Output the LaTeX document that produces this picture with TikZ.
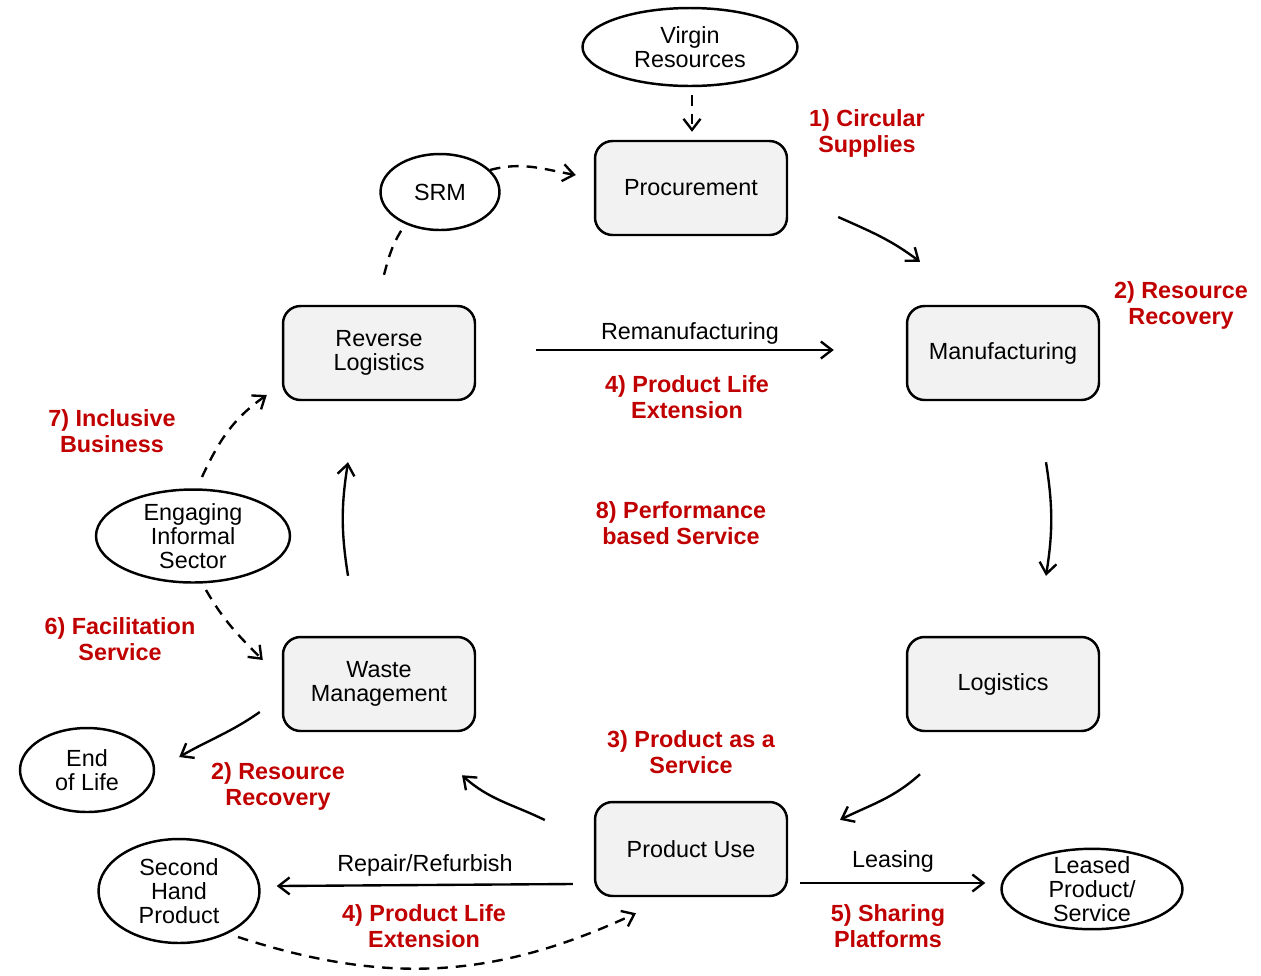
\documentclass[tikz,border=0pt]{standalone}
\usepackage{fontspec}
\setmainfont{Liberation Sans}
\usepackage{tikz}
\usetikzlibrary{shapes.geometric, arrows.meta}

\definecolor{cered}{RGB}{192,0,0}
\definecolor{boxgray}{RGB}{242,242,242}

\begin{document}
\begin{tikzpicture}[x=0.02cm, y=0.02cm,
	stage/.style={draw, line width=1.4pt, rounded corners=0.35cm, fill=boxgray, minimum width=3.84cm, minimum height=1.88cm, align=center, font=\fontsize{13.3}{13.5}\selectfont},
	pool/.style={draw, ellipse, line width=1.4pt, inner sep=0pt, align=center, font=\fontsize{13.3}{13.5}\selectfont},
	model/.style={text=cered, align=center, font=\fontsize{13.3}{14.8}\selectfont\bfseries},
	tag/.style={align=center, font=\fontsize{13.3}{13.5}\selectfont},
	flow/.style={line width=1.35pt, -{Straight Barb[length=2.2mm, width=3.4mm]}},
	dflow/.style={flow, dash pattern=on 6pt off 4.5pt}]
	
	%\draw[help lines, step=50] (0,0) grid (1261,-975);
	\useasboundingbox (0,0) rectangle (1261,-975);
	
	% stages of the cycle
	\node[stage] (proc) at (691,-188) {Procurement};
	\node[stage] (manu) at (1003,-353) {Manufacturing};
	\node[stage] (logi) at (1003,-684) {Logistics};
	\node[stage] (use) at (691,-849) {Product Use};
	\node[stage] (waste) at (379,-684) {Waste\\Management};
	\node[stage] (rlog) at (379,-353) {Reverse\\Logistics};
	
	% outside pools
	\node[pool, minimum width=4.3cm, minimum height=1.56cm] (virgin) at (690,-47) {Virgin\\Resources};
	\node[pool, minimum width=2.38cm, minimum height=1.52cm] (srm) at (440,-192) {SRM};
	\node[pool, minimum width=3.88cm, minimum height=1.86cm] (informal) at (193,-536) {Engaging\\Informal\\Sector};
	\node[pool, minimum width=2.68cm, minimum height=1.68cm] (eol) at (87,-770) {End\\of Life};
	\node[pool, minimum width=3.22cm, minimum height=2.08cm] (second) at (179,-891) {Second\\Hand\\Product};
	\node[pool, minimum width=3.62cm, inner ysep=-2.2pt] (leased) at (1092,-889) {Leased\\Product/\\Service};
	
	% main loop
	\draw[flow] ([shift={(50,-29)}]proc.east) to[out=-24, in=143] ([shift={(-83,43)}]manu.north); % 1
	\draw[flow] ([shift={(43,-61)}]manu.south) to[out=-81, in=81] ([shift={(43,60)}]logi.north); % 2
	\draw[flow] ([shift={(-83,-42)}]logi.south) to[out=-138, in=26] ([shift={(149,-19)}]use.north); % 3
	\draw[flow] ([shift={(-49,29)}]use.west) to[out=154, in=-42] ([shift={(83,-43)}]waste.south); % 4
	\draw[flow] ([shift={(-31,60)}]waste.north) to[out=99, in=-99] ([shift={(-31,-61)}]rlog.south); % 5
	
	% side flows
	\draw[dflow] ([shift={(2,-8)}]virgin.south) -- ([shift={(1,8)}]proc.north);
	\draw[dflow] ([shift={(50,22)}]srm.center) to[out=15, in=170] ([shift={(-18,13)}]proc.west);
	\draw[line width=1.35pt, dash pattern=on 6pt off 4.5pt] ([shift={(5,30)}]rlog.north) to[out=75, in=235] ([shift={(-35,-33)}]srm.center);
	\draw[flow] ([shift={(60,3)}]rlog.east) -- ([shift={(-72,3)}]manu.west);
	\draw[flow] ([shift={(-22,-28)}]waste.west) to[out=-145, in=30] ([shift={(24,13)}]eol.east);
	\draw[flow] ([shift={(-21,-35)}]use.west) -- ([shift={(16,5)}]second.east);
	\draw[dflow] ([shift={(59,-46)}]second.center) to[out=-18, in=205] ([shift={(-55,-16)}]use.south);
	\draw[flow] ([shift={(12,-34)}]use.east) -- ([shift={(-15,6)}]leased.west);
	\draw[dflow] ([shift={(9,59)}]informal.center) to[out=65, in=215] ([shift={(-15,-42)}]rlog.west);
	\draw[dflow] ([shift={(13,-54)}]informal.center) to[out=-60, in=135] ([shift={(-19,24)}]waste.west);
	
	% flow texts
	\node[tag] (reman) at (690,-333) {Remanufacturing};
	\node[tag] (repair) at (425,-865) {Repair/Refurbish};
	\node[tag] (lease) at (893,-861) {Leasing};
	
	% business models
	\node[model] (m1) at (867,-133) {1) Circular\\Supplies};
	\node[model] (m2a) at (1181,-305) {2) Resource\\Recovery};
	\node[model] (m4a) at (687,-397) {4) Product Life\\Extension};
	\node[model] (m7) at (112,-431) {7) Inclusive\\Business};
	\node[model] (m8) at (681,-523) {8) Performance\\based Service};
	\node[model] (m6) at (120,-639) {6) Facilitation\\Service};
	\node[model] (m3) at (691,-752) {3) Product as a\\Service};
	\node[model] (m2b) at (278,-786) {2) Resource\\Recovery};
	\node[model] (m4b) at (424,-926) {4) Product Life\\Extension};
	\node[model] (m5) at (888,-926) {5) Sharing\\Platforms};
	
\end{tikzpicture}
\end{document}
